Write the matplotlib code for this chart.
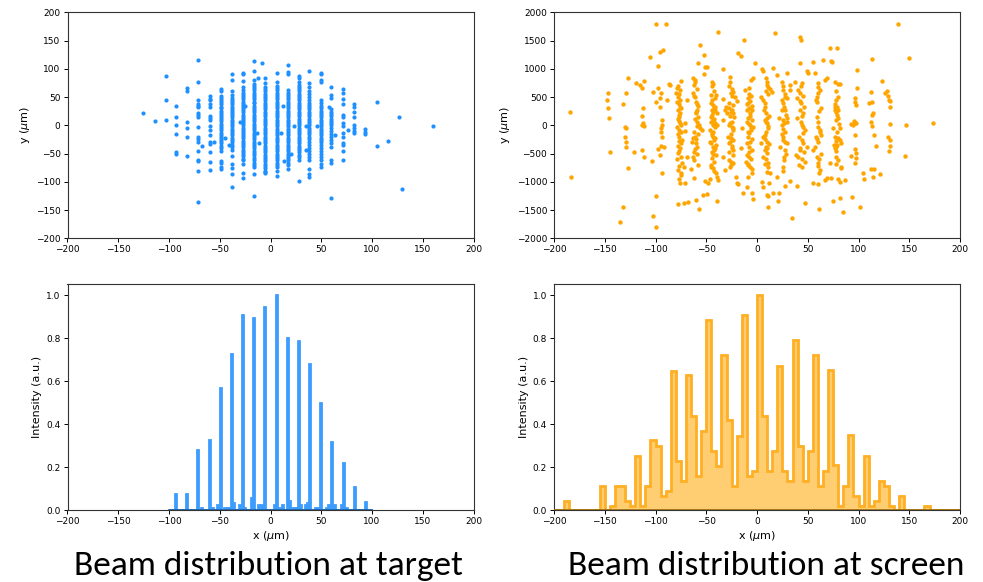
import numpy as np
import matplotlib
matplotlib.use("Agg")
import matplotlib.pyplot as plt

# ---------------- target scatter: columns of points ----------------
tgt_col_x = [-93, -82, -71, -60, -49, -38, -27, -16, -5, 6, 17, 28, 38, 50, 60, 71, 82, 93]
tgt_col_y = [
    [34, 15, 1, -15, -47, -51],
    [66, 61, 6, -4, -20, -54],
    [116, 76, 44, 38, 35, 32, 21, 18, 14, -3, -20, -24, -29, -45, -61, -64, -81, -136],
    [51, 47, 44, 38, 32, 17, 13, 9, -2, -9, -17, -29, -33, -48, -65, -79],
    [64, 61, 52, 49, 45, 41, 37, 33, 30, 26, 22, 19, 15, 11, 7, 3, -1, -5, -9, -13, -17, -21, -25, -28,
     -32, -36, -41, -46, -63, -67, -73, -78],
    [91, 80, 60, 53, 49, 45, 41, 37, 33, 29, 25, 22, 18, 14, 10, 6, 2, -2, -6, -10, -14, -18, -22, -26,
     -30, -34, -38, -44, -54, -68, -76, -86, -109],
    [93, 90, 79, 67, 62, 58, 54, 50, 46, 42, 38, 35, 31, 27, 23, 19, 15, 12, 8, 4, 0, -4, -8, -12, -16,
     -19, -23, -27, -31, -35, -39, -43, -47, -51, -55, -59, -62, -68, -85, -94],
    [114, 96, 80, 73, 70, 66, 62, 58, 54, 50, 46, 42, 39, 35, 31, 27, 23, 19, 15, 11, 7, 3, -1, -5, -9,
     -13, -17, -21, -25, -29, -33, -37, -41, -45, -49, -53, -57, -61, -66, -70, -73, -86, -126],
    [83, 74, 68, 64, 60, 56, 52, 48, 44, 40, 36, 32, 28, 24, 20, 16, 12, 8, 4, 0, -4, -8, -12, -16, -20,
     -24, -28, -32, -36, -40, -44, -48, -52, -56, -60, -64, -68, -72, -76, -80, -82, -85],
    [93, 77, 70, 66, 62, 58, 54, 50, 46, 42, 38, 34, 30, 26, 22, 18, 14, 10, 6, 2, -2, -6, -10, -14, -18,
     -22, -26, -30, -34, -38, -42, -46, -50, -54, -58, -62, -66, -70, -74, -80, -90],
    [107, 95, 91, 62, 58, 54, 50, 46, 42, 38, 34, 30, 26, 22, 18, 14, 10, 6, 2, -2, -6, -10, -14, -18,
     -22, -26, -30, -34, -38, -42, -46, -50, -54, -58, -62, -67, -71, -77],
    [88, 83, 76, 72, 68, 64, 60, 56, 52, 48, 44, 40, 36, 32, 28, 24, 20, 16, 12, 8, 4, 0, -4, -8, -12,
     -16, -20, -24, -28, -32, -36, -40, -44, -48, -52, -56, -62, -98],
    [96, 74, 68, 60, 55, 50, 45, 40, 36, 32, 28, 24, 20, 16, 12, 8, 4, 0, -4, -8, -12, -16, -20, -25,
     -30, -35, -40, -45, -50, -56, -62, -77, -86, -92],
    [93, 91, 80, 77, 44, 40, 35, 30, 26, 22, 18, 14, 10, 6, 2, -2, -6, -10, -14, -18, -22, -26, -30,
     -35, -40, -45, -50, -56, -62, -68, -74],
    [67, 53, 48, 28, 24, 20, 16, 12, 8, 4, 0, -5, -10, -15, -20, -26, -32, -38, -61, -67, -129],
    [64, 57, 46, 37, 19, 14, 4, -2, -14, -20, -31, -34, -45, -61],
    [37, 33, 24, 15, 1, -4, -10, -14],
    [-6, -11, -15],
]
tgt_extra_x = [-126, -114, -103, -103, -103, -67, -56, -45, -41, -30, -25, -12, -13, -11, -8, 10, 12,
               13, 20, 23, 35, 35, 46, 58, 64, 76, 105, 105, 116, 127, 130, 160]
tgt_extra_y = [22, 7, 88, 44, 9, -37, -30, -22, -34, 5, 34, 83, -14, -32, 110, -13, 35, -63, -50, -1,
               -2, -44, -1, 32, -17, -8, 42, -36, -27, 14, -113, -2]

# ---------------- screen scatter ----------------
scr_x = [
    -184, -183, -147, -148, -147, -146, -145, -135, -132, -132, -129, -127, -130, -129, -130, -129, -129,
    -127, -121, -119.5, -115, -113, -111, -112, -113, -112, -111, -113, -113, -111, -105, -103, -102, -100,
    -98, -97.5, -99.5, -100, -102, -99.5, -95.6, -93, -90, -95.3, -94.3, -89, -87, -85.6, -95.3, -94, -94,
    -94.6, -94.3, -94, -94.3, -95.3, -94, -98, -92,
    -75, -78.5, -80, -77, -78, -76, -77, -75.6, -77.5, -76, -77, -77, -74.6, -77, -78, -74, -76.5, -75.3,
    -77, -78, -74.6, -74, -76.5, -72.3, -78, -75.3, -76, -78, -72.3, -68, -69, -71.3, -70.6, -69.3, -70.6,
    -63, -61, -62, -63.4, -61, -60, -59.4, -58.8, -60, -57.8, -59.4, -56.8, -56, -54.5, -61, -63.4, -64.4,
    -60, -59.4, -62, -62.7, -65, -62, -60, -56.8, -56, -52, -51.2, -49.6, -57.8, -52.2,
    -44.7, -43.7, -45.6, -44.7, -41.4, -40.4, -43, -42.4, -44.7, -41.4, -39.7, -45.6, -43, -43.7, -41.4,
    -39, -46.3, -44.7, -43, -41.4, -46.3, -40.4, -43.7, -42.4, -44.7, -40.4, -45.6, -43.7, -42.4, -40.4,
    -39.7, -38, -46.3, -51.2, -48, -52.9, -49.6, -39.7, -38.7, -33.8,
    -26.6, -27.2, -25, -26, -23.3, -21.7, -20, -33.2, -30.5, -31.5, -27.2, -25, -24, -22.7, -29.2, -33.2,
    -26.6, -25, -23.3, -28.2, -26, -24, -27.2, -25, -23.3, -33.2, -27.2, -26, -23.3, -31.5, -20.7, -20,
    -18.4, -14.1, -18.4, -16, -12.8, -15, -15.8,
    -11.8, -7.5, -6.2, -3.6, -1.6, -8.5, -6.9, -9.5, -7.5, -10.2, -5.2, -6.9, -8.5, -9.5, -5.2, -6.9, -4.3,
    -6.2, -7.5, -8.5, -10.2, -7.5, -5.2, -9.5, -7.5, -10.8, -8.5, -6.9, -5.2, -8.5, -9.5, -5.2, -3.6,
    4.6, 5.6, 3.6, 6.2, 7.9, 6.9, 8.9, 9.5, 11.2, 12.8, 8.9, 10.2, 7.9, 9.5, 11.2, 8.9, 7.9, 6.2, 10.2, 8.9,
    7.9, 9.5, 5.6, 11.2, 10.2, 12.8, 12.2, 9.5, 5.6, 4.6, 10.5, 17.7, 15.4, 14.5, 3.6, 10.8, 16, 21, 34.5,
    20, 24.3, 26, 27.6, 29.2, 25.3, 26.6, 24.3, 27.6, 29.2, 22, 25.3, 29.9, 24.3, 26, 25.3, 27.6, 29.2,
    22.7, 27.6, 26.6, 26, 20, 27.6, 32.5, 22, 29.2, 32.5, 32.5,
    37.4, 40.7, 42.4, 44, 39, 43, 42.4, 45, 39.7, 44, 45.7, 47.3, 41.7, 44, 45.7, 49, 42.4, 38.4, 40.7,
    47.3, 41.7, 44, 42.4, 49, 50, 42.4, 43.4, 39.7, 47.3,
    55.5, 57.2, 59.8, 60.4, 58.1, 59.4, 58.8, 60.4, 62, 62.7, 58.1, 60.4, 57.2, 55.5, 58.8, 60.4, 62,
    61.4, 54.9, 59.8, 60.8, 64.7, 67, 68.6, 67, 69.3,
    71.6, 79.2, 73, 74, 77, 79.5, 81.5, 78.2, 77.2, 79.2, 76.6, 78.2, 79.9, 79.2, 79.9, 78.2, 75, 81.5,
    76.6, 79.9, 78.2, 81.5, 82.5, 75.9, 79.2, 76.6, 78.2, 78.2, 71.6, 78.2, 82.5, 83.1, 72.6, 79.9, 81.5,
    86.4, 75, 81.5, 84.8, 93.6, 101.2,
    98.9, 98.9, 96.9, 96.3, 97.3, 95.6, 96.9, 94.6, 97.9, 93, 96.3, 93, 96.9, 97.9, 97.3, 96.9, 104.5, 105.5,
    113.7, 112.7, 110, 113.4, 114.3, 113.7, 112.7, 113.7, 115.3, 117, 112.7, 115, 121, 114.7,
    123.5, 125.8, 127.8, 129.4, 130, 130.8, 130.8, 131, 129, 130.8, 130.8, 129.8, 139.3, 149.5, 146.8,
    145.9, 173.4,
]
scr_y = [
    241, -909, 566, 448, 312, 135, -467, -1717, -1440, 377, 566, 832, -24, -53, -212, -290, -390,
    -750, -467, 755, 713, 655, 784, 312, 165, 35, -12, 0, -437, -555, 1215, -626, 584, 1793,
    1055, 655, 407, -1251, -1600, -1794, 1303, 1333, 1793, 478, 566, 448, 731, 713, 330, 94, 5,
    -53, -113, -201, -366, -526, -850, -425, -378,
    790, 660, 578, 554, 495, 448, 377, 330, 271, 212, 141, 76, 5, -83, -154, -260, -272, -307,
    -449, -496, -555, -661, -720, -732, -791, -880, -1015, -1393, -1369, -1352, 448, 35, -95, -555, -1027,
    830, 800, 714, 566, 495, 419, 377, 271, 212, 153, 65, 6, -54, -83, -201, -231, -290,
    -319, -378, -467, -555, -779, -939, -1322, -1481, 1422, 1250, 1038, 1038, 1097, 902,
    773, 731, 537, 448, 478, 537, 360, 300, 271, 271, 212, 153, 94, 6, 35,
    6, -83, -142, -201, -231, -290, -349, -378, -437, -467, -526, -732, -762, -803, -850,
    -909, -968, -956, -980, -1027, -1234, -1216, -1334, 1646, 991,
    849, 696, 637, 566, 596, 495, 436, 460, 330, 271, 300, 271, 212, 141, 212, 94,
    35, -24, -54, -201, -231, -260, -319, -408, -437, -555, -614, -644, -673, -791, -909, -1027,
    -1039, -1204, 1286, 1227, 1510, -54, -408,
    625, 655, 802, 831, 1109, 478, 436, 377, 300, 271, 271, 165, 124, 65, 94, 6, -24,
    -83, -142, -201, -319, -378, -437, -526, -555, -644, -703, -732, -850, -909, -1086, -1204, -1310,
    991, 967, 507, 448, 389, 271, 212, 714, 684, 637, 831, 773, 94, 35, -54, -113, -172, -201, -290, -378,
    -437, -496, -555, -732, -821, -850, -1027, -1234, -1086, -998, -1452, 1628, 1008, 596, -319, -1245, -1192,
    -1340, -1634,
    890, 773, 625, 507, 478, 389, 330, 271, 271, 124, 124, 94, 65, 6, -201, -260, -290, -319,
    -378, -437, -555, -732, -909, -1074, -980, -1192, 920, 714, 625,
    773, 625, 566, 743, 478, 389, 271, 212, 124, 6, -24, -83, -201, -260, -319, -378, -437, -526, -555,
    -644, -703, -732, 1109, 967, 920, 1557, 1510, -1074, -1369,
    1127, 920, 684, 566, 448, 419, 153, -24, -83, -172, -201, -290, -378, -437, -555, -661, -791,
    -850, -1027, -1039, -1487, 1156, 802, 831, -968, -939,
    1374, 1362, 1130, 1118, 773, 731, 731, 448, 330, 318, 271, 241, 271, 183, 124, 94, -53, -53,
    -201, -231, -272, -260, -319, -349, -349, -408, -378, -555, -673, -685, -732, -762, -938, -955, -998,
    -968, -1334, -1292, -1529, -1263, -1440,
    979, 655, 478, 419, 360, 83, 47, 6, 35, 24, -171, -537, -425, -484, -584, -673, -850, -956,
    1168, 596, 401, 413, 212, 182, 64, -12, -171, -366, -779, -773, -862, -921,
    784, 566, 607, 519, 448, 436, 318, 23, -201, -260, -366, -455, 1787, 1185, 12,
    -543, 47,
]
# additional points inside the dense strands of the screen distribution
scr_dense_x = [
    -78, -76, -79, -75, -77, -78, -76, -79, -75, -77, -78, -76, -79, -75, -77,
    -61, -59, -62, -58, -60, -61, -59, -62, -58, -60, -61, -59, -62, -58,
    -44, -42, -45, -41, -43, -44, -42, -45, -41, -43, -44, -42, -45, -41, -43, -44, -42, -45,
    -27, -25, -28, -24, -26, -27, -25, -28, -24, -26, -27, -25, -28, -24, -26, -27,
    -8, -6, -9, -5, -7, -8, -6, -9, -5, -7, -8, -6, -9, -5,
    9, 11, 8, 12, 10, 9, 11, 8, 12, 10, 9, 11, 8,
    26, 28, 25, 29, 27, 26, 28, 25, 29, 27, 26,
    43, 45, 42, 46, 44, 43, 45, 42, 46, 44,
    60, 62, 59, 63, 61, 60, 62, 59, 63, 61, 60,
    78, 80, 77, 81, 79, 78, 80,
]
scr_dense_y = [
    700, 620, 420, 300, 180, 110, 40, -30, -120, -200, -360, -400, -600, -840, -950,
    760, 640, 520, 340, 240, 120, -20, -120, -160, -250, -420, -500, -620, -700,
    690, 600, 400, 330, 240, 180, 120, 60, -30, -110, -170, -260, -320, -400, -500, -580, -650, -700,
    760, 520, 400, 360, 240, 170, 60, 0, -90, -150, -290, -360, -480, -520, -700, -740,
    560, 520, 400, 340, 220, 30, -50, -110, -250, -290, -470, -600, -680, -780,
    600, 560, 330, 160, 130, 60, -20, -240, -330, -400, -600, -660, -680,
    700, 560, 440, 180, 40, -60, -120, -160, -500, -620, -800,
    690, 520, 430, 330, 160, 60, -140, -400, -480, -600,
    740, 620, 500, 300, 250, 60, -120, -250, -500, -600, -720,
    600, 500, 380, 20, -120, -460, -620,
]

# ---------------- histograms ----------------
tgt_hist_x = [-94, -83, -72, -61, -50, -39, -28, -17, -6, 5, 16, 27, 38, 49, 60, 71, 82, 93,
              -68, -58, -53, -46, -43, -41, -37, -31, -26, -19, -12, -9, 3, 8, 11, 18, 20, 23, 25,
              29, 34, 36, 44, 46, 55, 57, 63, 69, 74]
tgt_hist_h = [0.074, 0.074, 0.279, 0.325, 0.57, 0.726, 0.909, 0.893, 0.944, 1.0, 0.799, 0.785,
              0.678, 0.497, 0.316, 0.22, 0.11, 0.037,
              0.012, 0.012, 0.025, 0.012, 0.012, 0.012, 0.036, 0.023, 0.012, 0.056, 0.023, 0.023,
              0.023, 0.012, 0.025, 0.045, 0.012, 0.012, 0.012, 0.023, 0.023, 0.036, 0.012, 0.012,
              0.012, 0.023, 0.023, 0.023, 0.012]

scr_hist_h = [0, 0, 0.044, 0, 0, 0, 0, 0, 0, 0.113,          # -200 .. -155
              0, 0.022, 0.113, 0.113, 0.044, 0.022, 0.254, 0.022, 0.113, 0.325,   # -150 .. -105
              0.30, 0.068, 0.09, 0.649, 0.23, 0.138, 0.627, 0.44, 0.16, 0.37,     # -100 .. -55
              0.884, 0.277, 0.207, 0.72, 0.418, 0.113, 0.347, 0.907, 0.16, 0.184, # -50 .. -5
              1.0, 0.44, 0.183, 0.275, 0.672, 0.183, 0.136, 0.79, 0.30, 0.138,    # 0 .. 45
              0.275, 0.72, 0.115, 0.183, 0.65, 0.209, 0.022, 0.113, 0.348, 0.068, # 50 .. 95
              0.022, 0.254, 0.022, 0.044, 0.136, 0.113, 0.022, 0, 0.068, 0,       # 100 .. 145
              0, 0, 0, 0.022, 0, 0, 0, 0, 0, 0]                                   # 150 .. 195

x_ticks = [-200, -150, -100, -50, 0, 50, 100, 150, 200]
y_ticks_t = [-200, -150, -100, -50, 0, 50, 100, 150, 200]
y_ticks_s = [-2000, -1500, -1000, -500, 0, 500, 1000, 1500, 2000]
y_ticks_h = [0.0, 0.2, 0.4, 0.6, 0.8, 1.0]
titles = ["Beam distribution at target", "Beam distribution at screen"]

# ---------------- figure ----------------
W, H = 983, 582
fig = plt.figure(figsize=(W / 100, H / 100), dpi=100)


def ax_at(l, t, r, b):
    return fig.add_axes([l / W, 1 - b / H, (r - l) / W, (b - t) / H])


ax1 = ax_at(67.5, 12.3, 473.5, 238.3)
ax2 = ax_at(554, 12.3, 960, 238.3)
ax3 = ax_at(67.5, 284.3, 473.5, 510.3)
ax4 = ax_at(554, 284.3, 960, 510.3)

tfs = 6.5
lfs = 8

# target scatter
tx = np.concatenate([np.full(len(ys), cx, dtype=float) for cx, ys in zip(tgt_col_x, tgt_col_y)]
                    + [np.asarray(tgt_extra_x, float)])
ty = np.concatenate([np.asarray(ys, float) for ys in tgt_col_y] + [np.asarray(tgt_extra_y, float)])
ax1.scatter(tx, ty, s=9, color='#1E90FF', linewidths=0)
ax1.set_xlim(-200, 200)
ax1.set_ylim(-200, 200)
ax1.set_yticks(y_ticks_t)
ax1.set_ylabel(r'y ($\mu$m)', fontsize=lfs)

# screen scatter
ax2.scatter(scr_x + scr_dense_x, scr_y + scr_dense_y, s=10, color='#FFA500', linewidths=0)
ax2.set_xlim(-200, 200)
ax2.set_ylim(-2000, 2000)
ax2.set_yticks(y_ticks_s)
ax2.set_ylabel(r'y ($\mu$m)', fontsize=lfs)

# target histogram
t_edges = np.arange(-100, 101, 1)
t_counts = np.zeros(len(t_edges) - 1)
for xv, hv in zip(tgt_hist_x, tgt_hist_h):
    t_counts[xv + 100] = hv
bcol = '#3C9DFF'
ax3.stairs(t_counts, t_edges, fill=True, color=bcol, linewidth=0)
ax3.stairs(t_counts, t_edges, color=bcol, linewidth=2)
ax3.plot([-100, 100], [0, 0], color='#1f5f9f', lw=1.2, zorder=3)
ax3.set_xlim(-200, 200)
ax3.set_ylim(0, 1.05)
ax3.set_yticks(y_ticks_h)
ax3.set_ylabel('Intensity (a.u.)', fontsize=lfs)
ax3.set_xlabel(r'x ($\mu$m)', fontsize=lfs)

# screen histogram
s_edges = np.arange(-200, 201, 5)
ax4.stairs(scr_hist_h, s_edges, fill=True, color='#FFCD72', linewidth=0)
ax4.stairs(scr_hist_h, s_edges, color='#FFAF24', linewidth=2)
ax4.plot([-200, 200], [0, 0], color='#9a6a10', lw=1.2, zorder=3)
ax4.set_xlim(-200, 200)
ax4.set_ylim(0, 1.05)
ax4.set_yticks(y_ticks_h)
ax4.set_ylabel('Intensity (a.u.)', fontsize=lfs)
ax4.set_xlabel(r'x ($\mu$m)', fontsize=lfs)

for ax in (ax1, ax2, ax3, ax4):
    ax.set_xticks(x_ticks)
    ax.tick_params(labelsize=tfs, length=3, width=0.7, pad=2)
    for sp in ax.spines.values():
        sp.set_linewidth(0.8)
        sp.set_color('#333333')
    ax.xaxis.labelpad = 2
    ax.yaxis.labelpad = 3

fig.text(268 / W, 1 - 575 / H, titles[0], ha='center', va='baseline', fontsize=25.5,
         family=['Carlito', 'Lato', 'DejaVu Sans'])
fig.text(766 / W, 1 - 575 / H, titles[1], ha='center', va='baseline', fontsize=25.5,
         family=['Carlito', 'Lato', 'DejaVu Sans'])

fig.savefig('out.png', dpi=100)
